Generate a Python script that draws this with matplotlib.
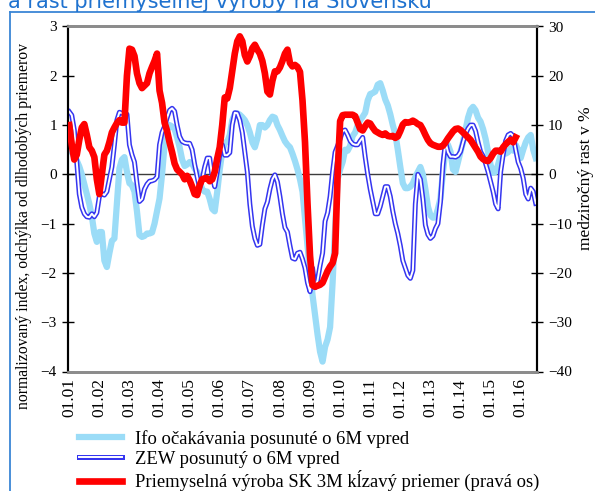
import matplotlib
matplotlib.use("Agg")
import matplotlib.pyplot as plt
from matplotlib.lines import Line2D
from matplotlib.legend_handler import HandlerTuple

# ---------------- data (monthly, Jan 2001 .. Jul 2016) ----------------
years = ["01.01", "01.02", "01.03", "01.04", "01.05", "01.06", "01.07", "01.08",
         "01.09", "01.10", "01.11", "01.12", "01.13", "01.14", "01.15", "01.16"]

ifo = [0.53, 0.45, 0.36, 0.28, 0.16, 0.0, -0.2, -0.4, -0.6, -0.85, -1.2, -1.37,
       -1.17, -1.17, -1.75, -1.88, -1.6, -1.35, -1.3, -0.6, 0.12, 0.3, 0.35, 0.05,
       -0.18, -0.22, -0.35, -0.75, -1.23, -1.27, -1.25, -1.2, -1.2, -1.18, -1.0, -0.75,
       -0.49, 0.0, 0.6, 0.9, 1.0, 0.97, 0.92, 0.75, 0.55, 0.3, 0.17, 0.2,
       0.25, 0.22, 0.12, 0.05, -0.15, -0.3, -0.35, -0.35, -0.5, -0.7, -0.75, -0.35,
       0.1, 0.46, 0.64, 0.66, 0.8, 1.1, 1.22, 1.24, 1.21, 1.16, 1.1, 1.0,
       0.85, 0.65, 0.55, 0.73, 1.0, 1.0, 0.95, 1.0, 1.1, 1.17, 1.15, 1.0,
       0.9, 0.78, 0.67, 0.6, 0.55, 0.42, 0.27, 0.1, -0.1, -0.35, -0.9, -1.45,
       -1.95, -2.45, -2.85, -3.25, -3.6, -3.8, -3.5, -3.35, -3.1, -2.2, -1.1, -0.1,
       0.1, 0.25, 0.5, 0.48, 0.58, 0.78, 0.85, 1.0, 1.1, 1.17, 1.25, 1.5,
       1.63, 1.65, 1.68, 1.82, 1.85, 1.7, 1.52, 1.4, 1.22, 1.0, 0.82, 0.5,
       0.15, -0.18, -0.28, -0.28, -0.25, -0.18, -0.05, 0.05, 0.15, 0.0, -0.3, -0.65,
       -0.83, -0.88, -0.87, -0.7, -0.49, 0.05, 0.5, 0.6, 0.46, 0.1, 0.05, 0.25,
       0.46, 0.65, 0.9, 1.15, 1.31, 1.37, 1.3, 1.15, 1.07, 0.92, 0.72, 0.45,
       0.19, 0.03, 0.05, 0.2, 0.39, 0.45, 0.42, 0.45, 0.53, 0.48, 0.6, 0.5,
       0.33, 0.5, 0.65, 0.75, 0.8, 0.5, 0.33]

zew = [1.27, 1.2, 0.9, 0.25, -0.4, -0.67, -0.8, -0.86, -0.87, -0.8, -0.86, -0.78,
       -0.45, -0.39, -0.42, -0.35, -0.1, 0.15, 0.6, 1.1, 1.26, 1.24, 1.24, 1.22,
       0.6, 0.4, 0.25, -0.18, -0.55, -0.5, -0.3, -0.2, -0.14, -0.13, -0.11, -0.05,
       0.6, 0.85, 0.97, 1.15, 1.3, 1.34, 1.28, 1.0, 0.77, 0.67, 0.64, 0.63,
       0.63, 0.5, 0.2, -0.05, -0.28, -0.1, 0.15, 0.33, 0.33, -0.05, -0.25, 0.05,
       0.4, 0.6, 0.39, 0.39, 0.44, 1.0, 1.25, 1.24, 1.1, 0.85, 0.45, 0.05,
       -0.6, -1.05, -1.3, -1.44, -1.42, -1.03, -0.7, -0.56, -0.3, -0.1, -0.01, -0.15,
       -0.45, -0.8, -1.08, -1.17, -1.45, -1.7, -1.72, -1.6, -1.58, -1.72, -1.9, -2.2,
       -2.38, -1.9, -2.3, -2.15, -1.85, -1.6, -0.95, -0.78, -0.45, 0.05, 0.45, 0.58,
       0.72, 0.88, 0.9, 0.8, 0.68, 0.62, 0.6, 0.6, 0.68, 0.75, 0.35, 0.0,
       -0.3, -0.55, -0.8, -0.8, -0.65, -0.45, -0.25, -0.25, -0.45, -0.75, -1.0, -1.2,
       -1.45, -1.75, -1.9, -2.05, -2.11, -1.95, -0.6, 0.0, -0.1, -0.5, -1.03, -1.22,
       -1.3, -1.25, -1.1, -1.0, -0.56, 0.2, 0.66, 0.45, 0.36, 0.36, 0.35, 0.38,
       0.46, 0.65, 0.82, 0.93, 1.0, 1.0, 0.88, 0.65, 0.46, 0.37, 0.22, 0.05,
       -0.15, -0.35, -0.6, -0.7, 0.05, 0.4, 0.68, 0.8, 0.83, 0.78, 0.5, 0.25,
       0.12, -0.08, -0.4, -0.5, -0.28, -0.35, -0.59]

prod = [10, 6, 3, 4, 7, 9.5, 10.2, 8, 5.5, 4.8, 3.5, -1,
        -4, 0, 4, 4.8, 6.5, 8.5, 9.5, 10.4, 11, 10.5, 10.5, 20,
        25.5, 25.3, 24, 20.5, 18.5, 17.5, 18, 18.5, 20.5, 21.8, 23, 24.5,
        17, 14.5, 10.5, 8.8, 6.5, 4.5, 2.2, 1, 0.5, 0, -1, -0.3,
        -1.2, -2.5, -4, -4.2, -2.2, -1, -0.8, -0.8, -1.4, -1, 0.5, 3.2,
        5.5, 10, 15.6, 15.4, 17.5, 21, 24.5, 27, 28, 27, 24.2, 22.9,
        24, 25.6, 26.3, 25.3, 24.5, 23, 20.5, 16.8, 16.2, 19, 20.9, 20.9,
        21.7, 23, 24.5, 25.3, 22.6, 21.9, 22.2, 21.8, 20.8, 15, 6.5, -6,
        -16.5, -22.5, -22.8, -22.6, -22.4, -22, -20.8, -19.6, -18.7, -18, -16, 0,
        10.8, 12, 12.1, 12.1, 12.1, 12.1, 11.8, 10.5, 9.2, 8.9, 9.8, 10.5,
        10.3, 9.5, 8.8, 8.5, 8.2, 8, 8.3, 7.8, 7.7, 7.8, 7.4, 7.7,
        8.8, 10.1, 10.6, 10.5, 10.6, 10.9, 10.6, 10.2, 10, 9.1, 8, 7,
        6.3, 6, 5.8, 5.6, 5.6, 5.8, 6.5, 7.3, 8, 8.7, 9.2, 9.3,
        9, 8.5, 8, 7.5, 7, 6.2, 5.4, 4.6, 3.6, 3.1, 2.8, 2.7,
        3.3, 4.2, 4.8, 4.8, 4.6, 5.5, 6.1, 6.6, 7, 6.5, 7.5]

legend_labels = ["Ifo očakávania posunuté o 6M vpred",
                 "ZEW posunutý o 6M vpred",
                 "Priemyselná výroba SK 3M kĺzavý priemer (pravá os)"]
title_text = "a rast priemyselnej výroby na Slovensku"
ylabel_left = "normalizovaný index, odchýlka od dlhodobých priemerov"
ylabel_right = "medziročný rast v %"

# ---------------- style ----------------
C_IFO = "#9BDCF7"
C_ZEW = "#3535F0"
C_RED = "#FF0000"
SERIF = ["Liberation Serif", "DejaVu Serif"]

W, H = 595, 491
fig = plt.figure(figsize=(W / 100, H / 100), dpi=100)
fig.patch.set_facecolor("white")

L, R, T, B = 68, 537, 26.5, 371.5
ax = fig.add_axes([L / W, 1 - B / H, (R - L) / W, (B - T) / H])
ax2 = ax.twinx()

x_ifo = list(range(len(ifo)))
x_zew = list(range(len(zew)))
x_prod = list(range(len(prod)))

ax.axhline(0, color="#3c3c3c", lw=1.0, zorder=1)
ax.plot(x_ifo, ifo, color=C_IFO, lw=4.5, solid_joinstyle="round", zorder=2)
ax.plot(x_zew, zew, color=C_ZEW, lw=3.6, solid_joinstyle="round", zorder=3)
ax.plot(x_zew, zew, color="white", lw=1.4, solid_joinstyle="round", zorder=4)
ax2.plot(x_prod, prod, color=C_RED, lw=4.8, solid_joinstyle="round", zorder=5)

ax.set_xlim(-0.5, 186.5)
ax.set_ylim(-4, 3)
ax2.set_ylim(-40, 30)
ax.set_yticks(range(-4, 4))
ax2.set_yticks(range(-40, 31, 10))
ax.set_xticks(range(0, 12 * len(years), 12))
ax.set_xticklabels(years, rotation=90, fontfamily=SERIF, fontsize=12.5)
for lab in ax.get_yticklabels():
    lab.set_fontfamily(SERIF)
    lab.set_fontsize(11)
for lab in ax2.get_yticklabels():
    lab.set_fontfamily(SERIF)
    lab.set_fontsize(11)

ax.tick_params(axis="x", length=0, pad=5)
ax.tick_params(axis="y", direction="inout", length=8, width=1, pad=4)
ax2.tick_params(axis="y", direction="inout", length=8, width=1, pad=4)

for a in (ax, ax2):
    a.spines["left"].set_color("black")
    a.spines["right"].set_color("black")
    a.spines["left"].set_linewidth(1.5)
    a.spines["right"].set_linewidth(1.5)
    a.spines["top"].set_color("#8c8c8c")
    a.spines["bottom"].set_color("#8c8c8c")
    a.spines["top"].set_linewidth(2)
    a.spines["bottom"].set_linewidth(2)
ax.patch.set_visible(False)

fig.text(24 / W, 1 - 226 / H, ylabel_left, rotation=90, ha="center", va="center",
         fontfamily=SERIF, fontsize=11.3)
fig.text(586 / W, 1 - 178 / H, ylabel_right, rotation=90, ha="center", va="center",
         fontfamily=SERIF, fontsize=12.5)

# title (cut off at top) and blue frame
fig.text(8 / W, 1 - 8.5 / H, title_text, ha="left", va="baseline",
         fontfamily=["DejaVu Sans"], fontsize=15, color="#1F72CF")
fig.add_artist(Line2D([10 / W, 1.0], [1 - 12 / H, 1 - 12 / H],
                      transform=fig.transFigure, color="#3A86D6", lw=1.3))
fig.add_artist(Line2D([10 / W, 10 / W], [1 - 12 / H, 0],
                      transform=fig.transFigure, color="#3A86D6", lw=1.3))

# legend
h_ifo = Line2D([], [], color=C_IFO, lw=4.5)
h_zew = (Line2D([], [], color=C_ZEW, lw=3.6), Line2D([], [], color="white", lw=1.4))
h_red = Line2D([], [], color=C_RED, lw=4.8)
fig.legend([h_ifo, h_zew, h_red], legend_labels,
           handler_map={tuple: HandlerTuple(ndivide=1)},
           loc="upper left", bbox_to_anchor=(79 / W, 1 - 430 / H),
           frameon=False, prop={"family": SERIF, "size": 13.4},
           handlelength=2.3, handletextpad=0.7, labelspacing=0.14,
           borderpad=0, borderaxespad=0)

fig.savefig("out.png", dpi=100, facecolor="white")
